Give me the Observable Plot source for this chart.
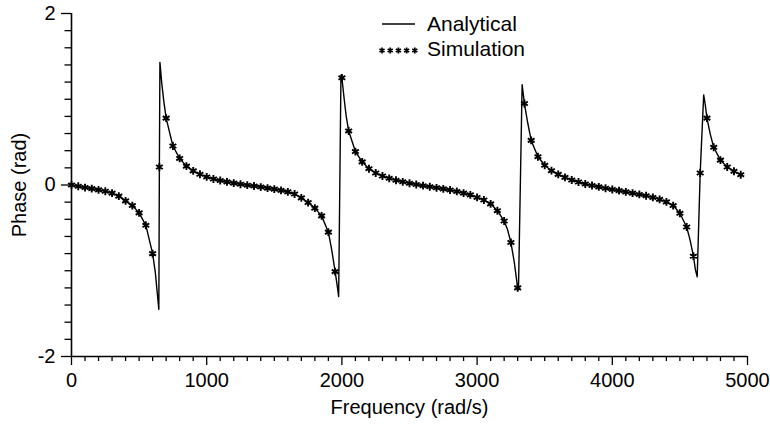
<!DOCTYPE html>
<html>
<head>
<meta charset="utf-8">
<script src="https://cdn.jsdelivr.net/npm/d3@7"></script>
<script src="https://cdn.jsdelivr.net/npm/@observablehq/plot@0.6"></script>
<style>
  html, body { margin: 0; padding: 0; background: #fff; }
  #wrap { position: relative; width: 770px; height: 427px; font-family: "Liberation Sans", Arial, Helvetica, sans-serif; }
  #wrap > svg { position: absolute; left: 0; top: 0; }
  #legend { position: absolute; left: 378px; top: 11px; }
  .row { display: flex; align-items: center; height: 25px; font-size: 21px; color: #000; line-height: 25px; }
  .row svg { width: 40px; height: 25px; margin-right: 9px; flex: none; }
</style>
</head>
<body>
<div id="wrap"><div id="legend"></div></div>
<script>
// ---- Data ----
const simFreq = [
  0, 50, 100, 150, 200, 250, 300, 350, 400, 450,
  500, 550, 600, 650, 700, 750, 800, 850, 900, 950,
  1000, 1050, 1100, 1150, 1200, 1250, 1300, 1350, 1400, 1450,
  1500, 1550, 1600, 1650, 1700, 1750, 1800, 1850, 1900, 1950,
  2000, 2050, 2100, 2150, 2200, 2250, 2300, 2350, 2400, 2450,
  2500, 2550, 2600, 2650, 2700, 2750, 2800, 2850, 2900, 2950,
  3000, 3050, 3100, 3150, 3200, 3250, 3300, 3350, 3400, 3450,
  3500, 3550, 3600, 3650, 3700, 3750, 3800, 3850, 3900, 3950,
  4000, 4050, 4100, 4150, 4200, 4250, 4300, 4350, 4400, 4450,
  4500, 4550, 4600, 4650, 4700, 4750, 4800, 4850, 4900, 4950
];
const simPhase = [
  0.00, -0.015, -0.03, -0.042, -0.057, -0.073, -0.095, -0.13, -0.185, -0.24,
  -0.325, -0.47, -0.80, 0.21, 0.78, 0.455, 0.31, 0.22, 0.165, 0.125,
  0.094, 0.07, 0.052, 0.036, 0.022, 0.009, -0.002, -0.012, -0.024, -0.036,
  -0.048, -0.063, -0.08, -0.105, -0.15, -0.205, -0.27, -0.36, -0.55, -1.01,
  1.25, 0.63, 0.39, 0.27, 0.19, 0.14, 0.105, 0.078, 0.055, 0.037,
  0.02, 0.006, -0.008, -0.02, -0.033, -0.045, -0.058, -0.075, -0.095, -0.115,
  -0.145, -0.175, -0.22, -0.30, -0.42, -0.67, -1.20, 0.95, 0.52, 0.33,
  0.23, 0.167, 0.124, 0.089, 0.058, 0.035, 0.012, -0.006, -0.022, -0.038,
  -0.052, -0.066, -0.08, -0.095, -0.11, -0.125, -0.145, -0.168, -0.197, -0.24,
  -0.33, -0.49, -0.83, 0.14, 0.78, 0.44, 0.29, 0.21, 0.16, 0.12
];
// Extra analytical-curve points around the four resonances
const resFreq = [
  620, 635, 646, 654, 668, 684,
  1925, 1965, 1976, 1993, 2017, 2032,
  3225, 3275, 3306, 3333, 3375,
  4575, 4615, 4628, 4676, 4688, 4725
];
const resPhase = [
  -1.02, -1.27, -1.45, 1.43, 1.18, 0.96,
  -0.76, -1.17, -1.30, 1.28, 1.00, 0.80,
  -0.52, -0.90, -1.22, 1.17, 0.72,
  -0.64, -0.99, -1.07, 1.05, 0.93, 0.59
];
const xMajorTicks = [0, 1000, 2000, 3000, 4000, 5000];
const xMinorTicks = [
  100, 200, 300, 400, 500, 600, 700, 800, 900,
  1100, 1200, 1300, 1400, 1500, 1600, 1700, 1800, 1900,
  2100, 2200, 2300, 2400, 2500, 2600, 2700, 2800, 2900,
  3100, 3200, 3300, 3400, 3500, 3600, 3700, 3800, 3900,
  4100, 4200, 4300, 4400, 4500, 4600, 4700, 4800, 4900
];
const yMajorTicks = [-2, 0, 2];
const yMinorTicks = [-1.8, -1.6, -1.4, -1.2, -1, -0.8, -0.6, -0.4, -0.2,
                     0.2, 0.4, 0.6, 0.8, 1, 1.2, 1.4, 1.6, 1.8];
const seriesNames = ["Analytical", "Simulation"];

// ---- Tables ----
const sim = simFreq.map((f, i) => ({freq: f, phase: simPhase[i]}));
const analytical = sim.concat(resFreq.map((f, i) => ({freq: f, phase: resPhase[i]})))
  .sort((a, b) => a.freq - b.freq);

const font = '"Liberation Sans", Arial, Helvetica, sans-serif';

const chart = Plot.plot({
  width: 770,
  height: 427,
  marginLeft: 71,
  marginRight: 23,
  marginTop: 13,
  marginBottom: 71,
  style: {fontFamily: font, fontSize: "20px", color: "#000", background: "transparent", overflow: "visible"},
  x: {domain: [0, 5000]},
  y: {domain: [-2, 2]},
  marks: [
    Plot.axisX(xMinorTicks, {tickSize: 5, tickFormat: () => "", label: null, strokeWidth: 1.3}),
    Plot.axisX(xMajorTicks, {tickSize: 9, tickPadding: 7, strokeWidth: 1.3, tickFormat: d => String(d),
      fontSize: 20, label: "Frequency (rad/s)", labelAnchor: "center", labelArrow: "none", labelOffset: 57}),
    Plot.axisY(yMinorTicks, {tickSize: 6.5, tickFormat: () => "", label: null, strokeWidth: 1.3}),
    Plot.axisY(yMajorTicks, {tickSize: 10, tickPadding: 6, strokeWidth: 1.3, tickFormat: d => String(d),
      fontSize: 20, label: "Phase (rad)", labelAnchor: "center", labelArrow: "none", labelOffset: 60}),
    Plot.ruleX([0], {stroke: "#000", strokeWidth: 1.6}),
    Plot.ruleY([-2], {stroke: "#000", strokeWidth: 1.6}),
    Plot.line(analytical, {x: "freq", y: "phase", stroke: "#000", strokeWidth: 1.4}),
    Plot.dot(sim, {x: "freq", y: "phase", symbol: "asterisk", r: 3.7, stroke: "#000", strokeWidth: 1.9})
  ]
});
const wrap = document.getElementById("wrap");
wrap.insertBefore(chart, wrap.firstChild);

// ---- Legend (inside plot area, top center) ----
const legend = document.getElementById("legend");
const star = d3.symbol(d3.symbolAsterisk, 24)();
seriesNames.forEach((name, i) => {
  const row = document.createElement("div");
  row.className = "row";
  const ns = "http://www.w3.org/2000/svg";
  const s = document.createElementNS(ns, "svg");
  s.setAttribute("viewBox", "0 0 40 25");
  if (i === 0) {
    const l = document.createElementNS(ns, "line");
    l.setAttribute("x1", 4); l.setAttribute("x2", 37);
    l.setAttribute("y1", 13); l.setAttribute("y2", 13);
    l.setAttribute("stroke", "#000"); l.setAttribute("stroke-width", 1.3);
    s.appendChild(l);
  } else {
    [4, 12.2, 20.4, 28.6, 36.8].forEach(cx => {
      const p = document.createElementNS(ns, "path");
      p.setAttribute("d", star);
      p.setAttribute("transform", `translate(${cx},14.5)`);
      p.setAttribute("stroke", "#000"); p.setAttribute("stroke-width", 1.7); p.setAttribute("fill", "none");
      s.appendChild(p);
    });
  }
  row.appendChild(s);
  const t = document.createElement("span");
  t.textContent = name;
  row.appendChild(t);
  legend.appendChild(row);
});
</script>
</body>
</html>
